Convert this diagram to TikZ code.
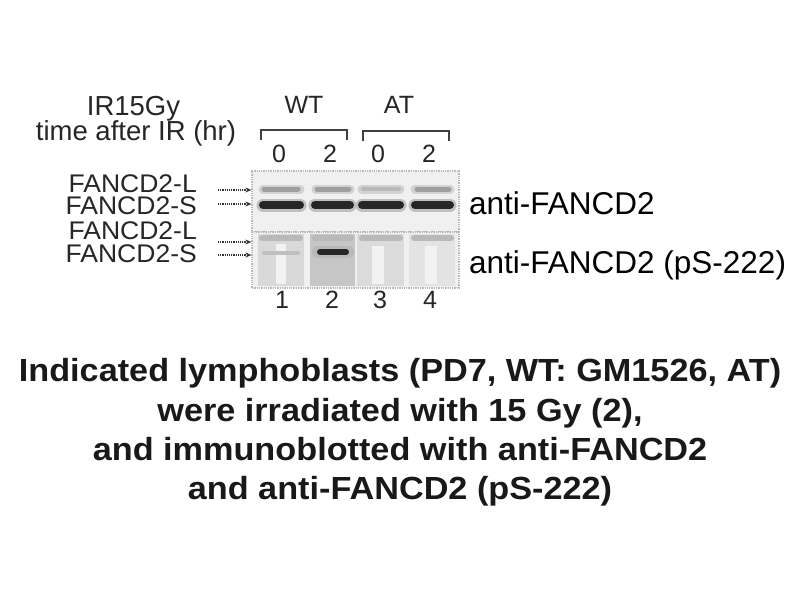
\documentclass[tikz,border=0pt]{standalone}
\usepackage{fontspec}
\setmainfont{Liberation Sans}
\usetikzlibrary{arrows.meta}
\begin{document}
\begin{tikzpicture}[x=1pt,y=-1pt]
\useasboundingbox[fill=white] (0,0) rectangle (800,600);
\tikzstyle{every node}=[inner sep=0pt,anchor=base,text=black!85]
\tikzstyle{hd}=[font=\fontsize{27.5}{30}\selectfont]
\tikzstyle{grp}=[font=\fontsize{25}{28}\selectfont]
\tikzstyle{band}=[font=\fontsize{25.5}{28}\selectfont,xscale=1.04,anchor=base east]
\tikzstyle{ab}=[font=\fontsize{31.5}{34}\selectfont,anchor=base west,text=black]
\tikzstyle{legend}=[font=\bfseries\fontsize{32}{36}\selectfont,xscale=1.07,text=black!90]
\tikzstyle{blot}=[draw=gray!55,densely dotted,line width=1.3pt,fill=gray!12,anchor=center]
\tikzstyle{ptr}=[densely dotted,line width=1.2pt,black!80,-{Stealth[length=6pt,width=5pt]}]
% header
\node[hd](ir) at (133.5,115) {IR15Gy};
\node[hd](time) at (136,140) {time after IR (hr)};
\node[grp](wt) at (304,113) {WT};
\node[grp](at) at (399,113) {AT};
\draw[line width=1.6pt,black!75] (261,140) |- (347,130) -- (347,140);
\draw[line width=1.6pt,black!75] (363,141) |- (449,131) -- (449,141);
\node[grp](h1) at (279,162) {0};
\node[grp](h2) at (330,162) {2};
\node[grp](h3) at (378,162) {0};
\node[grp](h4) at (429,162) {2};
% blot panels
\node[blot,minimum width=207pt,minimum height=61pt](up) at (355.5,201.5) {};
\node[blot,minimum width=207pt,minimum height=56pt](lo) at (355.5,260) {};
\fill[gray!30] (258,234) rectangle (304,286);
\fill[gray!45] (310,234) rectangle (355,286);
\fill[gray!28] (357,234) rectangle (404,286);
\fill[gray!22] (409,234) rectangle (455,286);
\fill[gray!10] (276,244) rectangle (286,284);
\fill[gray!10] (372,246) rectangle (384,284);
\fill[gray!10] (425,246) rectangle (437,284);
% upper bands
\draw[line width=9pt,line cap=round,gray!35] (263,189) -- (300,189) (316,189) -- (350,189) (362,189) -- (400,189) (415,189) -- (450,189);
\draw[line width=5pt,line cap=round,gray!75] (264,189) -- (298,189) (317,189) -- (349,189) (417,189) -- (449,189);
\draw[line width=4pt,line cap=round,gray!55] (363,189) -- (399,189);
\draw[line width=13pt,line cap=round,gray!50] (263,205) -- (300,205) (315,205) -- (350,205) (362,205) -- (400,205) (415,205) -- (450,205);
\draw[line width=8pt,line cap=round,black!85] (263,205) -- (300,205) (315,205) -- (350,205) (362,205) -- (400,205) (415,205) -- (450,205);
% lower bands
\draw[line width=6pt,line cap=round,gray!55] (262,238) -- (300,238) (315,238) -- (351,238) (362,238) -- (400,238) (414,238) -- (451,238);
\draw[line width=12pt,line cap=round,gray!55] (318,252) -- (348,252);
\draw[line width=6pt,line cap=round,black!85] (320,252) -- (346,252);
\draw[line width=4pt,line cap=round,gray!50] (264,253) -- (298,253);
% side labels and pointers
\node[band](l1) at (197,192) {FANCD2-L};
\node[band](s1) at (197,214) {FANCD2-S};
\node[band](l2) at (197,239) {FANCD2-L};
\node[band](s2) at (197,262) {FANCD2-S};
\coordinate (p1) at (218,190);
\coordinate (p2) at (218,204);
\coordinate (p3) at (218,242);
\coordinate (p4) at (218,255);
\draw[ptr] (p1) -- (p1 -| up.west);
\draw[ptr] (p2) -- (p2 -| up.west);
\draw[ptr] (p3) -- (p3 -| lo.west);
\draw[ptr] (p4) -- (p4 -| lo.west);
\node[ab](ab1) at (469,214) {anti-FANCD2};
\node[ab](ab2) at (469,273) {anti-FANCD2 (pS-222)};
% lane numbers
\node[grp](n1) at (282,308) {1};
\node[grp](n2) at (332,308) {2};
\node[grp](n3) at (380,308) {3};
\node[grp](n4) at (430,308) {4};
% caption
\node[legend](c1) at (400,381) {Indicated lymphoblasts (PD7, WT: GM1526, AT)};
\node[legend](c2) at (400,421) {were irradiated with 15 Gy (2),};
\node[legend](c3) at (400,460) {and immunoblotted with anti-FANCD2};
\node[legend](c4) at (400,499) {and anti-FANCD2 (pS-222)};
\end{tikzpicture}
\end{document}
